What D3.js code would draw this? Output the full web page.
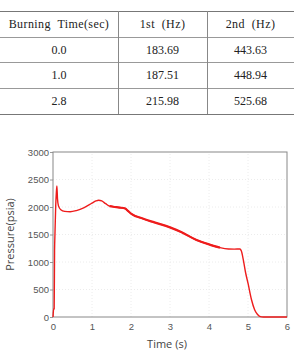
<!DOCTYPE html>
<html>
<head>
<meta charset="utf-8">
<script src="https://cdn.jsdelivr.net/npm/d3@7"></script>
<style>
  body { margin: 0; background: #fff; }
  svg { display: block; }
</style>
</head>
<body>
<div id="chart"></div>
<script>
// table data
const tableHeader = ["Burning  Time(sec)", "1st  (Hz)", "2nd  (Hz)"];
const burnTimes = ["0.0", "1.0", "2.8"];
const firstHz = ["183.69", "187.51", "215.98"];
const secondHz = ["443.63", "448.94", "525.68"];

// pressure trace (time s, pressure psia)
const times = [0, 0.02, 0.03, 0.04, 0.05, 0.07, 0.085, 0.1, 0.115, 0.14, 0.2, 0.3, 0.44, 0.6, 0.8, 1.0, 1.1, 1.17, 1.25, 1.35, 1.45, 1.55, 1.7, 1.85, 1.92, 2.02, 2.3, 2.6, 3.0, 3.3, 3.68, 4.0, 4.28, 4.5, 4.65, 4.79, 4.83, 4.88, 4.94, 5.0, 5.09, 5.17, 5.24, 5.3, 5.4, 6.0];
const pressure = [0, 160, 150, 1200, 1500, 2030, 2250, 2384, 2150, 2020, 1950, 1920, 1913, 1935, 1990, 2070, 2110, 2124, 2110, 2060, 2015, 2004, 1990, 1973, 1930, 1871, 1790, 1720, 1630, 1540, 1400, 1320, 1261, 1237, 1235, 1237, 1200, 1038, 800, 615, 314, 133, 50, 12, 0, 0];

const xTicks = [0, 1, 2, 3, 4, 5, 6];
const yTicks = [0, 500, 1000, 1500, 2000, 2500, 3000];

const W = 294, H = 354;
const svg = d3.select("#chart").append("svg")
  .attr("width", W).attr("height", H);

// ---- table ----
const colX = [0, 118, 207, 294];
const rowY = [11, 37, 62, 88, 114];
const tbl = svg.append("g")
  .style("font-family", "'Liberation Serif', 'DejaVu Serif', serif")
  .style("font-size", "12px")
  .attr("fill", "#222");

rowY.forEach((y, i) => {
  tbl.append("line")
    .attr("x1", 0).attr("x2", W)
    .attr("y1", y + 0.5).attr("y2", y + 0.5)
    .attr("stroke", i === 0 || i === rowY.length - 1 ? "#777" : "#999")
    .attr("stroke-width", 1);
});
[colX[1], colX[2]].forEach(x => {
  tbl.append("line")
    .attr("x1", x + 0.5).attr("x2", x + 0.5)
    .attr("y1", rowY[0]).attr("y2", rowY[rowY.length - 1])
    .attr("stroke", "#888");
});

const rows = [tableHeader].concat(burnTimes.map((b, i) => [b, firstHz[i], secondHz[i]]));
rows.forEach((r, ri) => {
  r.forEach((txt, ci) => {
    tbl.append("text")
      .attr("x", (colX[ci] + colX[ci + 1]) / 2)
      .attr("y", (rowY[ri] + rowY[ri + 1]) / 2)
      .attr("text-anchor", "middle")
      .attr("dominant-baseline", "central")
      .style("white-space", "pre")
      .style("letter-spacing", ri === 0 ? "0.4px" : null)
      .text(txt);
  });
});

// ---- chart ----
const margin = { top: 152, right: 7, bottom: 37, left: 53 };
const x = d3.scaleLinear().domain([0, 6]).range([margin.left, W - margin.right]);
const y = d3.scaleLinear().domain([0, 3000]).range([H - margin.bottom, margin.top]);

const g = svg.append("g")
  .style("font-family", "'Open Sans', 'Noto Sans', sans-serif");

// faint grid
g.append("g")
  .selectAll("line.gx")
  .data(xTicks.slice(1, -1))
  .join("line")
  .attr("x1", d => x(d)).attr("x2", d => x(d))
  .attr("y1", y(0)).attr("y2", y(3000))
  .attr("stroke", "#ececec").attr("stroke-dasharray", "1,2");
g.append("g")
  .selectAll("line.gy")
  .data(yTicks.slice(1, -1))
  .join("line")
  .attr("x1", x(0)).attr("x2", x(6))
  .attr("y1", d => y(d)).attr("y2", d => y(d))
  .attr("stroke", "#ececec").attr("stroke-dasharray", "1,2");

// axes
const xAxis = g.append("g")
  .attr("transform", `translate(0,${y(0)})`)
  .call(d3.axisBottom(x).tickValues(xTicks).tickSize(0).tickPadding(6).tickFormat(d3.format("d")));
const yAxis = g.append("g")
  .attr("transform", `translate(${x(0)},0)`)
  .call(d3.axisLeft(y).tickValues(yTicks).tickSize(3).tickPadding(1).tickFormat(d3.format("d")));
[xAxis, yAxis].forEach(a => {
  a.select(".domain").remove();
  a.selectAll("line").attr("stroke", "#999");
  a.selectAll("text").attr("fill", "#555").style("font-size", "9.5px");
});

// frame
g.append("rect")
  .attr("x", x(0)).attr("y", y(3000))
  .attr("width", x(6) - x(0)).attr("height", y(0) - y(3000))
  .attr("fill", "none").attr("stroke", "#888").attr("stroke-width", 1);

// curve
const pts = times.map((t, i) => ({ t, p: pressure[i] }));
const line = d3.line().x(d => x(d.t)).y(d => y(d.p)).curve(d3.curveMonotoneX);
g.append("path")
  .datum(pts)
  .attr("d", line)
  .attr("fill", "none")
  .attr("stroke", "#ee1c1c")
  .attr("stroke-width", 1.4);
g.append("path")
  .datum(pts.filter(d => d.t >= 1.45 && d.t <= 4.3))
  .attr("d", line)
  .attr("fill", "none")
  .attr("stroke", "#ee1c1c")
  .attr("stroke-width", 2.2);

// axis titles
g.append("text")
  .attr("x", (x(0) + x(6)) / 2 - 3)
  .attr("y", H - 6)
  .attr("text-anchor", "middle")
  .attr("fill", "#444")
  .style("font-size", "11px")
  .text("Time (s)");
g.append("text")
  .attr("transform", `translate(14,${(y(0) + y(3000)) / 2}) rotate(-90)`)
  .attr("text-anchor", "middle")
  .attr("fill", "#444")
  .style("font-size", "11px")
  .text("Pressure(psia)");
</script>
</body>
</html>
